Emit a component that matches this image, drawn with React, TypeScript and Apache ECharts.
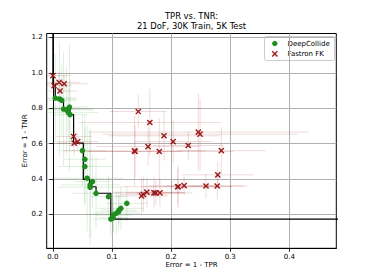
import React, { useEffect, useRef } from "react";
import * as echarts from "echarts";

const titleLines = ["TPR vs. TNR:", "21 DoF, 30K Train, 5K Test"];
const xAxisName = "Error = 1 - TPR";
const yAxisName = "Error = 1 - TNR";
const legendNames = ["DeepCollide", "Fastron FK"];

const xTicks = [0.0, 0.1, 0.2, 0.3, 0.4];
const yTicks = [0.2, 0.4, 0.6, 0.8, 1.0, 1.2];
const xRange = [-0.0105, 0.4795];
const yRange = [0.008, 1.222];

// DeepCollide points
const deepX = [0.004, 0.011, 0.015, 0.018, 0.023, 0.028, 0.026, 0.029, 0.05, 0.054, 0.054, 0.058, 0.067, 0.063, 0.063, 0.073, 0.094, 0.098, 0.102, 0.107, 0.112, 0.115, 0.111, 0.125, 0.102];
const deepY = [0.857, 0.852, 0.844, 0.795, 0.791, 0.806, 0.776, 0.763, 0.56, 0.511, 0.47, 0.404, 0.385, 0.366, 0.353, 0.319, 0.3, 0.173, 0.196, 0.206, 0.224, 0.234, 0.215, 0.262, 0.18];
const deepXErr = [0.035, 0.03, 0.025, 0.05, 0.045, 0.03, 0.05, 0.03, 0.04, 0.035, 0.045, 0.06, 0.03, 0.05, 0.055, 0.04, 0.03, 0.03, 0.03, 0.04, 0.03, 0.04, 0.035, 0.035, 0.025];
const deepYErr = [0.25, 0.32, 0.2, 0.32, 0.25, 0.36, 0.15, 0.2, 0.2, 0.25, 0.22, 0.3, 0.15, 0.3, 0.33, 0.2, 0.12, 0.1, 0.1, 0.12, 0.08, 0.12, 0.1, 0.1, 0.08];

// Fastron FK points
const fastX = [0.0, 0.002, 0.0105, 0.019, 0.012, 0.035, 0.036, 0.042, 0.1445, 0.164, 0.188, 0.2035, 0.246, 0.249, 0.138, 0.139, 0.161, 0.18, 0.229, 0.285, 0.279, 0.211, 0.212, 0.222, 0.259, 0.278, 0.159, 0.171, 0.174, 0.181, 0.153, 0.15];
const fastY = [0.984, 0.927, 0.946, 0.938, 0.897, 0.64, 0.602, 0.611, 0.781, 0.719, 0.644, 0.611, 0.665, 0.653, 0.559, 0.555, 0.583, 0.555, 0.589, 0.56, 0.423, 0.356, 0.356, 0.362, 0.36, 0.36, 0.325, 0.321, 0.321, 0.321, 0.313, 0.304];
const fastXErr = [0.03, 0.03, 0.035, 0.04, 0.03, 0.03, 0.03, 0.035, 0.048, 0.12, 0.095, 0.065, 0.187, 0.165, 0.12, 0.08, 0.087, 0.125, 0.06, 0.075, 0.06, 0.093, 0.06, 0.06, 0.07, 0.045, 0.06, 0.065, 0.05, 0.04, 0.04, 0.045];
const fastYErr = [0.04, 0.05, 0.06, 0.05, 0.05, 0.06, 0.07, 0.05, 0.095, 0.19, 0.14, 0.12, 0.22, 0.2, 0.2, 0.15, 0.11, 0.19, 0.08, 0.13, 0.075, 0.1, 0.12, 0.055, 0.07, 0.075, 0.085, 0.09, 0.07, 0.08, 0.1, 0.1];

// Pareto frontier (step line vertices)
const frontX = [0.0, 0.0, 0.004, 0.004, 0.015, 0.015, 0.018, 0.018, 0.029, 0.029, 0.035, 0.035, 0.0515, 0.0515, 0.062, 0.062, 0.073, 0.073, 0.098, 0.098, 0.55];
const frontY = [1.3, 0.93, 0.93, 0.857, 0.857, 0.838, 0.838, 0.795, 0.795, 0.763, 0.763, 0.602, 0.602, 0.398, 0.398, 0.356, 0.356, 0.319, 0.319, 0.173, 0.173];

const GREEN = "#1e8c1e";
const RED = "#9b1c1c";
const FONT = "DejaVu Sans";

function zip4(a: number[], b: number[], c: number[], d: number[]) {
  return a.map((v, i) => [v, b[i], c[i], d[i]]);
}

function errRender(color: string) {
  return (params: any, api: any) => {
    const x = api.value(0), y = api.value(1), xe = api.value(2), ye = api.value(3);
    const l = api.coord([x - xe, y]);
    const r = api.coord([x + xe, y]);
    const t = api.coord([x, y + ye]);
    const b = api.coord([x, y - ye]);
    const style = { stroke: color, lineWidth: 1 };
    return {
      type: "group",
      children: [
        { type: "line", shape: { x1: l[0], y1: l[1], x2: r[0], y2: r[1] }, style },
        { type: "line", shape: { x1: t[0], y1: t[1], x2: b[0], y2: b[1] }, style },
      ],
    };
  };
}

function xRender(params: any, api: any) {
  const p = api.coord([api.value(0), api.value(1)]);
  const s = 2.6;
  const style = { stroke: RED, lineWidth: 1.4 };
  return {
    type: "group",
    children: [
      { type: "line", shape: { x1: p[0] - s, y1: p[1] - s, x2: p[0] + s, y2: p[1] + s }, style },
      { type: "line", shape: { x1: p[0] - s, y1: p[1] + s, x2: p[0] + s, y2: p[1] - s }, style },
    ],
  };
}

export default function App() {
  const ref = useRef<HTMLDivElement>(null);
  useEffect(() => {
    if (!ref.current) return;
    const chart = echarts.init(ref.current, undefined, { renderer: "svg" });
    const gridL = 46.7, gridR = 37.7, gridT = 33.5, gridB = 31.7;
    const titleStyle = { fontFamily: FONT, fontSize: 8.4, fontWeight: "normal", color: "#000" };
    const option: any = {
      animation: false,
      backgroundColor: "#fff",
      textStyle: { fontFamily: FONT },
      title: [
        { text: titleLines[0], left: 191.5, top: 12, textAlign: "center", padding: 0, textStyle: titleStyle },
        { text: titleLines[1], left: 191.5, top: 22, textAlign: "center", padding: 0, textStyle: titleStyle },
      ],
      grid: { left: gridL, right: gridR, top: gridT, bottom: gridB, show: true, borderColor: "#000", borderWidth: 1, backgroundColor: "transparent" },
      xAxis: {
        type: "value",
        min: xRange[0],
        max: xRange[1],
        name: xAxisName,
        nameLocation: "middle",
        nameGap: 13.5,
        nameMoveOverlap: false,
        nameTextStyle: { fontFamily: FONT, fontSize: 7, color: "#000" },
        axisLine: { show: true, lineStyle: { color: "#000", width: 1 } },
        axisTick: { show: true, length: 3.5, customValues: xTicks, lineStyle: { color: "#000", width: 0.8 } },
        axisLabel: { customValues: xTicks, formatter: (v: number) => v.toFixed(1), fontFamily: FONT, fontSize: 7, color: "#000", margin: 5 },
        splitLine: { show: true, lineStyle: { color: "#b0b0b0", width: 1 } },
      },
      yAxis: {
        type: "value",
        min: yRange[0],
        max: yRange[1],
        name: yAxisName,
        nameLocation: "middle",
        nameGap: 18.5,
        nameMoveOverlap: false,
        nameTextStyle: { fontFamily: FONT, fontSize: 7, color: "#000" },
        axisLine: { show: true, lineStyle: { color: "#000", width: 1 } },
        axisTick: { show: true, length: 3.5, customValues: yTicks, lineStyle: { color: "#000", width: 0.8 } },
        axisLabel: { customValues: yTicks, formatter: (v: number) => v.toFixed(1), fontFamily: FONT, fontSize: 7, color: "#000", margin: 4 },
        splitLine: { show: true, lineStyle: { color: "#b0b0b0", width: 1 } },
      },
      series: [
        {
          type: "custom",
          name: "deepErr",
          clip: true,
          silent: true,
          renderItem: errRender("rgba(30,140,30,0.14)"),
          data: zip4(deepX, deepY, deepXErr, deepYErr),
          encode: { x: 0, y: 1 },
          z: 1,
        },
        {
          type: "custom",
          name: "fastErr",
          clip: true,
          silent: true,
          renderItem: errRender("rgba(155,28,28,0.16)"),
          data: zip4(fastX, fastY, fastXErr, fastYErr),
          encode: { x: 0, y: 1 },
          z: 1,
        },
        {
          type: "line",
          name: "frontier",
          data: frontX.map((v, i) => [v, frontY[i]]),
          showSymbol: false,
          symbol: "none",
          clip: true,
          lineStyle: { color: "#000", width: 1.2 },
          z: 2,
        },
        {
          type: "scatter",
          name: legendNames[0],
          data: deepX.map((v, i) => [v, deepY[i]]),
          symbol: "circle",
          symbolSize: 5.5,
          itemStyle: { color: GREEN, opacity: 1 },
          z: 3,
        },
        {
          type: "custom",
          name: legendNames[1],
          clip: true,
          renderItem: xRender,
          data: fastX.map((v, i) => [v, fastY[i]]),
          encode: { x: 0, y: 1 },
          z: 3,
        },
      ],
      graphic: [
        {
          type: "group",
          left: 264,
          top: 36,
          children: [
            { type: "rect", shape: { x: 0, y: 0, width: 70, height: 24, r: 2 }, style: { fill: "rgba(255,255,255,0.85)", stroke: "#cccccc", lineWidth: 1 } },
            { type: "circle", shape: { cx: 10.3, cy: 7, r: 2.7 }, style: { fill: GREEN } },
            { type: "line", shape: { x1: 7.7, y1: 14.7, x2: 12.9, y2: 19.9 }, style: { stroke: RED, lineWidth: 1.4 } },
            { type: "line", shape: { x1: 7.7, y1: 19.9, x2: 12.9, y2: 14.7 }, style: { stroke: RED, lineWidth: 1.4 } },
            { type: "text", x: 23, y: 7, style: { text: legendNames[0], fontFamily: FONT, fontSize: 7, fill: "#000", verticalAlign: "middle" } },
            { type: "text", x: 23, y: 17.3, style: { text: legendNames[1], fontFamily: FONT, fontSize: 7, fill: "#000", verticalAlign: "middle" } },
          ],
          z: 10,
        },
      ],
    };
    chart.setOption(option);
    return () => chart.dispose();
  }, []);
  return <div ref={ref} style={{ position: "fixed", left: 0, top: 0, width: 374, height: 280 }} />;
}
